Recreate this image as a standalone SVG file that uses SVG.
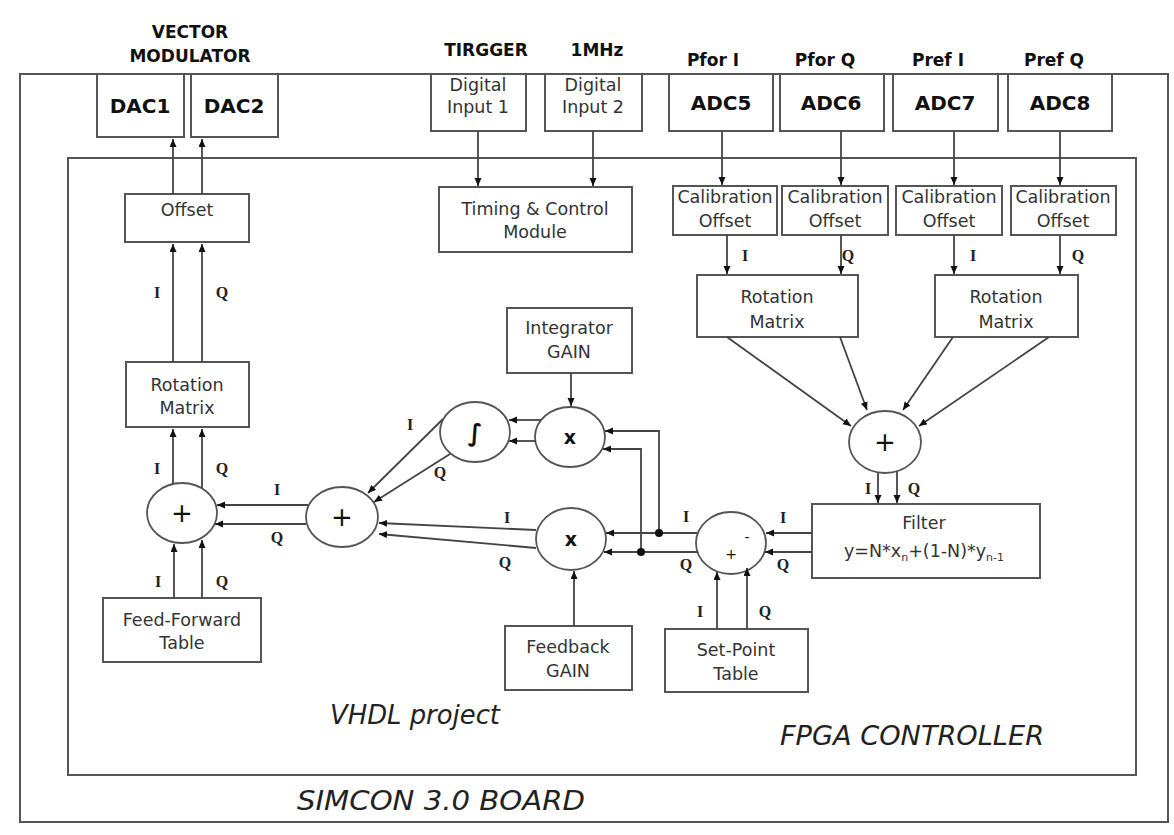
<svg xmlns="http://www.w3.org/2000/svg" width="1174" height="835" viewBox="0 0 1174 835">
<style>
.frame{fill:none;stroke:#555;stroke-width:2}
.box{fill:#fff;stroke:#555;stroke-width:2}
.circ{fill:#fff;stroke:#555;stroke-width:1.8}
.t{font-family:"DejaVu Sans",sans-serif;font-size:17.5px;fill:#333;text-anchor:middle}
.hb{font-family:"DejaVu Sans",sans-serif;font-weight:bold;font-size:17px;fill:#111;text-anchor:middle}
.adc{font-family:"DejaVu Sans",sans-serif;font-weight:bold;font-size:20px;fill:#111;text-anchor:middle}
.iq{font-family:"Liberation Serif",serif;font-weight:bold;font-size:16px;fill:#222;text-anchor:middle}
.sym{font-family:"DejaVu Sans",sans-serif;fill:#111;text-anchor:middle}
.big{font-family:"DejaVu Sans",sans-serif;font-style:italic;font-size:26px;fill:#222}
.c{fill:none;stroke:#444;stroke-width:1.8}
.a{marker-end:url(#ah)}
</style>
<defs>
<marker id="ah" markerUnits="userSpaceOnUse" markerWidth="9" markerHeight="8" refX="8" refY="3.5" orient="auto">
<path d="M0,0 L8,3.5 L0,7 z" fill="#111"/>
</marker>
</defs>
<rect width="1174" height="835" fill="#fff"/>

<g id="board">
<rect class="frame" x="20" y="74" width="1148" height="748"/>
<text class="big" x="297" y="810" textLength="288" lengthAdjust="spacingAndGlyphs">SIMCON 3.0 BOARD</text>
</g>
<g id="fpga">
<rect class="frame" x="68" y="158" width="1068" height="617"/>
<text class="big" x="330" y="724" textLength="170" lengthAdjust="spacingAndGlyphs">VHDL project</text>
<text class="big" x="780" y="745" textLength="264" lengthAdjust="spacingAndGlyphs">FPGA CONTROLLER</text>
</g>

<g id="labels-top">
<text class="hb" x="190" y="38">VECTOR</text>
<text class="hb" x="190" y="62">MODULATOR</text>
<text class="hb" x="486" y="56">TIRGGER</text>
<text class="hb" x="597" y="56">1MHz</text>
<text class="hb" x="713" y="66">Pfor I</text>
<text class="hb" x="825" y="66">Pfor Q</text>
<text class="hb" x="938" y="66">Pref I</text>
<text class="hb" x="1054" y="66">Pref Q</text>
</g>

<g id="dac1"><rect class="box" x="97" y="74" width="87" height="63"/><text class="adc" x="140" y="113">DAC1</text></g>
<g id="dac2"><rect class="box" x="191" y="74" width="87" height="63"/><text class="adc" x="234" y="113">DAC2</text></g>
<g id="din1"><rect class="box" x="431" y="74" width="95" height="57"/><text class="t" x="478" y="91">Digital</text><text class="t" x="478" y="113">Input 1</text></g>
<g id="din2"><rect class="box" x="545" y="74" width="97" height="57"/><text class="t" x="593" y="91">Digital</text><text class="t" x="593" y="113">Input 2</text></g>
<g id="adc5"><rect class="box" x="669" y="74" width="104" height="57"/><text class="adc" x="721" y="110">ADC5</text></g>
<g id="adc6"><rect class="box" x="780" y="74" width="104" height="57"/><text class="adc" x="831" y="110">ADC6</text></g>
<g id="adc7"><rect class="box" x="893" y="74" width="105" height="57"/><text class="adc" x="945" y="110">ADC7</text></g>
<g id="adc8"><rect class="box" x="1008" y="74" width="104" height="57"/><text class="adc" x="1060" y="110">ADC8</text></g>

<g id="cal1"><rect class="box" x="673" y="186" width="104" height="49"/><text class="t" x="725" y="203">Calibration</text><text class="t" x="725" y="227">Offset</text></g>
<g id="cal2"><rect class="box" x="782" y="186" width="106" height="49"/><text class="t" x="835" y="203">Calibration</text><text class="t" x="835" y="227">Offset</text></g>
<g id="cal3"><rect class="box" x="896" y="186" width="106" height="49"/><text class="t" x="949" y="203">Calibration</text><text class="t" x="949" y="227">Offset</text></g>
<g id="cal4"><rect class="box" x="1011" y="186" width="105" height="49"/><text class="t" x="1063" y="203">Calibration</text><text class="t" x="1063" y="227">Offset</text></g>

<g id="timing"><rect class="box" x="439" y="187" width="193" height="65"/><text class="t" x="535" y="215">Timing &amp; Control</text><text class="t" x="535" y="238">Module</text></g>
<g id="offset"><rect class="box" x="125" y="194" width="124" height="48"/><text class="t" x="187" y="216">Offset</text></g>
<g id="rotL"><rect class="box" x="126" y="362" width="123" height="65"/><text class="t" x="187" y="391">Rotation</text><text class="t" x="187" y="414">Matrix</text></g>
<g id="rot1"><rect class="box" x="697" y="275" width="161" height="62"/><text class="t" x="777" y="303">Rotation</text><text class="t" x="777" y="328">Matrix</text></g>
<g id="rot2"><rect class="box" x="935" y="275" width="143" height="62"/><text class="t" x="1006" y="303">Rotation</text><text class="t" x="1006" y="328">Matrix</text></g>
<g id="intgain"><rect class="box" x="507" y="308" width="125" height="65"/><text class="t" x="569" y="334">Integrator</text><text class="t" x="569" y="358">GAIN</text></g>
<g id="fbgain"><rect class="box" x="505" y="626" width="127" height="64"/><text class="t" x="568" y="653">Feedback</text><text class="t" x="568" y="677">GAIN</text></g>
<g id="setpoint"><rect class="box" x="665" y="629" width="143" height="63"/><text class="t" x="736" y="656">Set-Point</text><text class="t" x="736" y="680">Table</text></g>
<g id="ff"><rect class="box" x="103" y="598" width="158" height="64"/><text class="t" x="182" y="626">Feed-Forward</text><text class="t" x="182" y="649">Table</text></g>
<g id="filter"><rect class="box" x="812" y="504" width="228" height="74"/><text class="t" x="924" y="529">Filter</text>
<text class="t" x="924" y="557">y=N*x<tspan font-size="11" dy="4">n</tspan><tspan dy="-4">+(1-N)*y</tspan><tspan font-size="11" dy="4">n-1</tspan></text></g>

<g id="sumL"><ellipse class="circ" cx="182" cy="513" rx="35" ry="30"/><text class="sym" x="182" y="522" font-size="26">+</text></g>
<g id="sum2"><ellipse class="circ" cx="342" cy="517" rx="36" ry="30"/><text class="sym" x="342" y="526" font-size="26">+</text></g>
<g id="integ"><ellipse class="circ" cx="475" cy="432" rx="35" ry="30"/><text class="sym" x="475" y="441" font-size="24" font-weight="bold">∫</text></g>
<g id="mulU"><ellipse class="circ" cx="570" cy="437" rx="35" ry="30"/><text class="sym" x="570" y="444" font-size="19" font-weight="bold">x</text></g>
<g id="mulL"><ellipse class="circ" cx="571" cy="539" rx="35" ry="31"/><text class="sym" x="571" y="546" font-size="19" font-weight="bold">x</text></g>
<g id="sub"><ellipse class="circ" cx="731" cy="543" rx="35" ry="31"/><text class="sym" x="747" y="542" font-size="14">-</text><text class="sym" x="731" y="559" font-size="14">+</text></g>
<g id="sumR"><ellipse class="circ" cx="885" cy="442" rx="36" ry="31"/><text class="sym" x="885" y="451" font-size="26">+</text></g>

<g id="connectors">
<line class="c a" x1="173" y1="194" x2="173" y2="139"/>
<line class="c a" x1="202" y1="194" x2="202" y2="139"/>
<line class="c a" x1="173" y1="362" x2="173" y2="244"/>
<line class="c a" x1="202" y1="362" x2="202" y2="244"/>
<line class="c a" x1="173" y1="484" x2="173" y2="429"/>
<line class="c a" x1="202" y1="488" x2="202" y2="429"/>
<line class="c a" x1="174" y1="598" x2="174" y2="544"/>
<line class="c a" x1="202" y1="598" x2="202" y2="540"/>
<line class="c a" x1="308" y1="505" x2="217" y2="505"/>
<line class="c a" x1="306" y1="524" x2="215" y2="524"/>
<line class="c a" x1="443" y1="419" x2="368" y2="493"/>
<line class="c a" x1="450" y1="454" x2="374" y2="502"/>
<line class="c a" x1="536" y1="530" x2="379" y2="523"/>
<line class="c a" x1="536" y1="548" x2="379" y2="534"/>
<line class="c a" x1="541" y1="420" x2="509" y2="420"/>
<line class="c a" x1="536" y1="441" x2="509" y2="441"/>
<line class="c a" x1="571" y1="373" x2="571" y2="406"/>
<path class="c a" d="M659,533 V431 H605"/>
<path class="c a" d="M641,552 V449 H603"/>
<line class="c a" x1="697" y1="533" x2="606" y2="533"/>
<line class="c a" x1="698" y1="552" x2="604" y2="552"/>
<line class="c a" x1="812" y1="533" x2="766" y2="533"/>
<line class="c a" x1="812" y1="552" x2="765" y2="552"/>
<line class="c a" x1="878" y1="473" x2="878" y2="503"/>
<line class="c a" x1="897" y1="471" x2="897" y2="503"/>
<line class="c a" x1="574" y1="626" x2="574" y2="571"/>
<line class="c a" x1="717" y1="629" x2="717" y2="572"/>
<line class="c a" x1="747" y1="629" x2="747" y2="568"/>
<line class="c a" x1="727" y1="337" x2="851" y2="426"/>
<line class="c a" x1="840" y1="337" x2="867" y2="410"/>
<line class="c a" x1="953" y1="337" x2="903" y2="410"/>
<line class="c a" x1="1049" y1="337" x2="919" y2="426"/>
<line class="c a" x1="722" y1="131" x2="722" y2="185"/>
<line class="c a" x1="841" y1="131" x2="841" y2="185"/>
<line class="c a" x1="954" y1="131" x2="954" y2="185"/>
<line class="c a" x1="1060" y1="131" x2="1060" y2="185"/>
<line class="c a" x1="727" y1="235" x2="727" y2="274"/>
<line class="c a" x1="841" y1="235" x2="841" y2="274"/>
<line class="c a" x1="954" y1="235" x2="954" y2="274"/>
<line class="c a" x1="1060" y1="235" x2="1060" y2="274"/>
<line class="c a" x1="478" y1="131" x2="478" y2="186"/>
<line class="c a" x1="593" y1="131" x2="593" y2="186"/>
<circle cx="659" cy="533" r="4" fill="#111"/>
<circle cx="641" cy="552" r="4" fill="#111"/>
</g>

<g id="iq-labels">
<text class="iq" x="157" y="298">I</text><text class="iq" x="222" y="298">Q</text>
<text class="iq" x="157" y="474">I</text><text class="iq" x="222" y="474">Q</text>
<text class="iq" x="277" y="495">I</text><text class="iq" x="277" y="543">Q</text>
<text class="iq" x="410" y="430">I</text><text class="iq" x="440" y="478">Q</text>
<text class="iq" x="507" y="523">I</text><text class="iq" x="505" y="568">Q</text>
<text class="iq" x="686" y="522">I</text><text class="iq" x="686" y="570">Q</text>
<text class="iq" x="783" y="523">I</text><text class="iq" x="783" y="570">Q</text>
<text class="iq" x="868" y="494">I</text><text class="iq" x="914" y="494">Q</text>
<text class="iq" x="158" y="587">I</text><text class="iq" x="222" y="587">Q</text>
<text class="iq" x="700" y="617">I</text><text class="iq" x="765" y="617">Q</text>
<text class="iq" x="745" y="261">I</text><text class="iq" x="848" y="261">Q</text>
<text class="iq" x="973" y="261">I</text><text class="iq" x="1078" y="261">Q</text>
</g>
</svg>
